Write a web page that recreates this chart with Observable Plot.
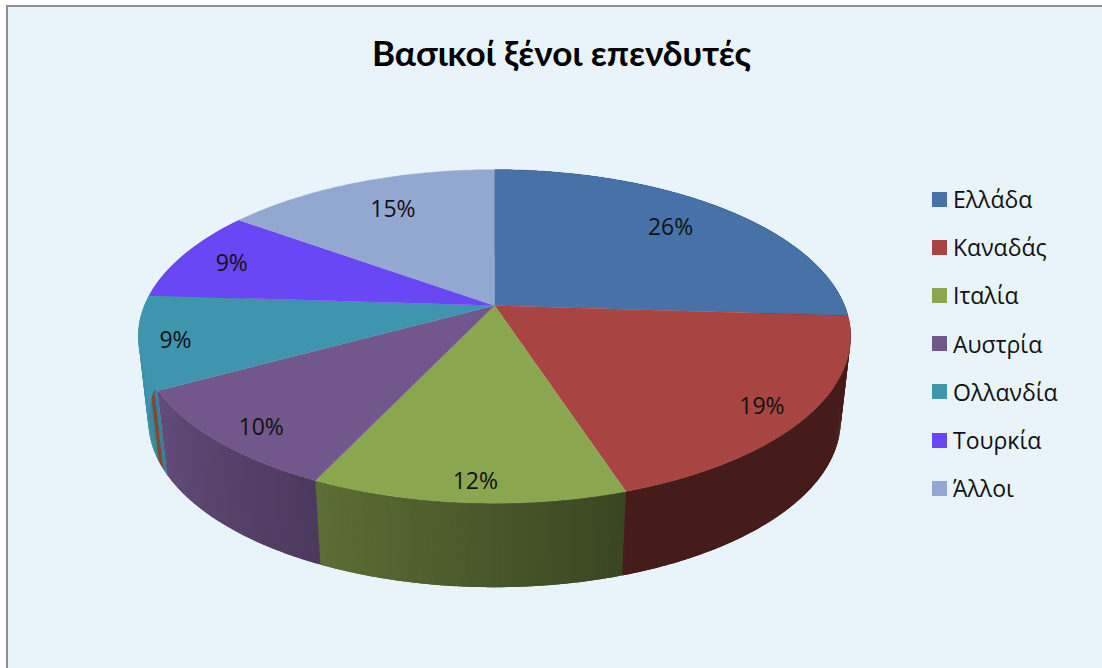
<!DOCTYPE html>
<html lang="el">
<head>
<meta charset="utf-8">
<script src="https://cdn.jsdelivr.net/npm/d3@7"></script>
<script src="https://cdn.jsdelivr.net/npm/@observablehq/plot@0.6"></script>
<style>
  html, body { margin: 0; padding: 0; background: #fff; }
  #frame { position: relative; width: 1102px; height: 668px; overflow: hidden; }
  #panel { position: absolute; left: 6px; top: 5px; right: -4px; bottom: -4px; background: #e8f4f9; border: 2px solid #8f8f8f; box-sizing: border-box; }
  #chart { position: absolute; left: 0; top: 0; }
  #chart svg { background: transparent; display: block; }
  #title { position: absolute; left: 0; top: 30px; width: 1123px; text-align: center; font: bold 35.2px Lato, sans-serif; color: #000; line-height: 44px; }
  #legend { position: absolute; left: 932px; top: 175px; font: 23px "Open Sans", sans-serif; color: #111; }
  #legend div { display: flex; align-items: center; height: 48.2px; }
  #legend i { width: 15px; height: 15px; margin-right: 6px; display: block; }
</style>
</head>
<body>
<div id="frame">
  <div id="panel"></div>
  <div id="chart"></div>
  <div id="title">Βασικοί ξένοι επενδυτές</div>
  <div id="legend"></div>
</div>
<script>
const categories = ["Ελλάδα", "Καναδάς", "Ιταλία", "Αυστρία", "Ολλανδία", "Τουρκία", "Άλλοι"];
const shares = [26, 19, 12, 10, 9, 9, 15];
const colors = ["#4672a8", "#a84442", "#8aa64f", "#72578c", "#3f95ae", "#6a47f5", "#93a8d0"];

// Layout of the tilted disc (perspective projection of a unit circle)
const cx = 494, cy = 305, a = 350, b = 161, k = 0.1856;
const depth = 84, baseScale = 0.972;
const labelReach = [0.78, 0.88, 0.9, 0.88, 0.9, 0.84, 0.76];
const labelTurn = [-1.5, 1, -0.7, -1.5, 0, 0, 1.5];

const rad = deg => deg * Math.PI / 180;
function project(deg, r = 1, base = false) {
  const u = r * Math.sin(rad(deg)), v = r * Math.cos(rad(deg));
  const d = 1 + k * v;
  return {
    x: cx + (base ? baseScale : 1) * a * u / d,
    y: cy - b * v / d + (base ? depth : 0)
  };
}
function shade(color, deg) {
  if (deg > 243 && deg < 245.5) return "#85482f"; // the rust-coloured streak on the wall
  const f = Math.min(1, Math.max(0.415, 0.42 + (deg - 162) * 0.0057));
  const c = d3.rgb(color);
  return d3.rgb(c.r * f, c.g * f, c.b * f).formatHex();
}

const total = d3.sum(shares);
let running = 0;
const slices = shares.map((s, i) => {
  const start = running / total * 360;
  running += s;
  return { i, name: categories[i], share: s, start, end: running / total * 360, color: colors[i] };
});

// Top faces
const topPts = slices.flatMap(sl => {
  const pts = [{ ...project(0, 0), id: sl.i, color: sl.color }];
  const n = Math.ceil(sl.end - sl.start);
  for (let j = 0; j <= n; j++) {
    pts.push({ ...project(sl.start + (sl.end - sl.start) * j / n), id: sl.i, color: sl.color });
  }
  return pts;
});

// Side wall, cut in thin overlapping strips so that its shade can change along the rim
const sidePts = [];
slices.filter(sl => sl.end > 90 && sl.start < 274).forEach(sl => {
  const from = sl.start, to = sl.end, n = Math.ceil((to - from) * 2);
  for (let j = 0; j < n; j++) {
    const d0 = from + (to - from) * j / n, d1 = from + (to - from) * (j + 1) / n;
    const over = Math.min(d1 + 0.6, j === n - 1 ? d1 : Infinity);
    const id = `${sl.i}-${j}`, color = shade(sl.color, (d0 + d1) / 2);
    [project(d0), project(over), project(over, 1, true), project(d0, 1, true)]
      .forEach(p => sidePts.push({ ...p, id, color }));
  }
});

const labels = slices.map(sl => ({
  ...project((sl.start + sl.end) / 2 + labelTurn[sl.i], labelReach[sl.i]),
  text: `${sl.share}%`
}));

const chart = Plot.plot({
  width: 1102, height: 668, margin: 0,
  x: { domain: [0, 1102], range: [0, 1102], axis: null },
  y: { domain: [0, 668], range: [0, 668], axis: null },
  color: { type: "identity" },
  marks: [
    Plot.line(sidePts, { x: "x", y: "y", z: "id", fill: "color" }),
    Plot.line(topPts, { x: "x", y: "y", z: "id", fill: "color", stroke: "color", strokeWidth: 0.4 }),
    Plot.text(labels, { x: "x", y: "y", dy: 2, text: "text", fontSize: 23, fontFamily: "Open Sans, sans-serif", fill: "#111", textAnchor: "middle", lineAnchor: "middle" })
  ]
});
document.getElementById("chart").append(chart);

const legend = document.getElementById("legend");
categories.forEach((name, i) => {
  const row = document.createElement("div");
  const sw = document.createElement("i");
  sw.style.background = colors[i];
  row.append(sw, document.createTextNode(name));
  legend.append(row);
});
</script>
</body>
</html>
